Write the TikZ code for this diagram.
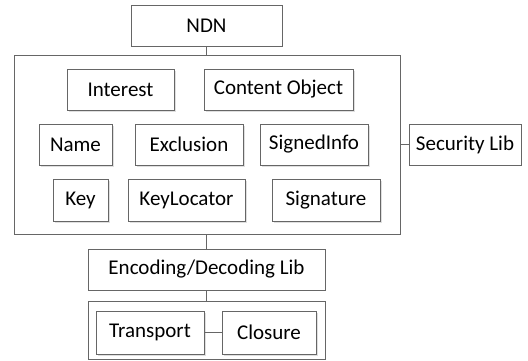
\documentclass[tikz,border=0pt]{standalone}
\usepackage{fontspec}
\setmainfont{Carlito}
\usetikzlibrary{shadows}
\tikzset{
  box/.style = {rectangle, draw=black!60, line width=0.9pt, fill=white,
    inner sep=0pt, align=center, font=\fontsize{21}{24}\selectfont},
  box_s/.style = {box, drop shadow={opacity=0.25, shadow xshift=1.5pt,
    shadow yshift=-1.5pt}},
  wire/.style = {draw=black!60, line width=0.9pt}
}
\begin{document}
\begin{tikzpicture}[x=1pt,y=-1pt]
\useasboundingbox (0,0) rectangle (528,360);
% top and containers
\node [box, minimum width=151pt, minimum height=41pt] (ndn) at (206.5,25.5) {NDN};
\node [box, minimum width=386pt, minimum height=179pt] (core) at (207,144.5) {};
\node [box, minimum width=112pt, minimum height=41pt] (sec) at (465,144.5) {Security Lib};
\node [box, minimum width=237pt, minimum height=41pt] (enc) at (206.5,269.5) {Encoding/Decoding Lib};
\node [box, minimum width=237pt, minimum height=58pt] (net) at (206.5,330) {};
% packets
\node [box_s, minimum width=107pt, minimum height=41pt] (interest) at (120.5,89.5) {Interest};
\node [box_s, minimum width=149pt, minimum height=41pt] (content) at (278.5,89.5) {Content Object};
\node [box_s, minimum width=73pt, minimum height=41pt] (name) at (75.5,144.5) {Name};
\node [box_s, minimum width=108pt, minimum height=41pt] (excl) at (189,144.5) {Exclusion};
\node [box_s, minimum width=108pt, minimum height=41pt] (sinfo) at (314,144.5) {SignedInfo};
\node [box_s, minimum width=55pt, minimum height=42pt] (key) at (80.5,200) {Key};
\node [box_s, minimum width=117pt, minimum height=42pt] (kloc) at (186.5,200) {KeyLocator};
\node [box_s, minimum width=108pt, minimum height=42pt] (sig) at (326,200) {Signature};
% transport
\node [box_s, minimum width=108pt, minimum height=43pt] (trans) at (150,332.5) {Transport};
\node [box_s, minimum width=94pt, minimum height=43pt] (clos) at (269,332.5) {Closure};
% links
\draw [wire] (ndn.south) -- (ndn.south |- core.north);
\draw [wire] (core.east) -- (sec.west);
\draw [wire] (enc.north) -- (enc.north |- core.south);
\draw [wire] (enc.south) -- (net.north);
\draw [wire] (trans.east) -- (clos.west);
\end{tikzpicture}
\end{document}
